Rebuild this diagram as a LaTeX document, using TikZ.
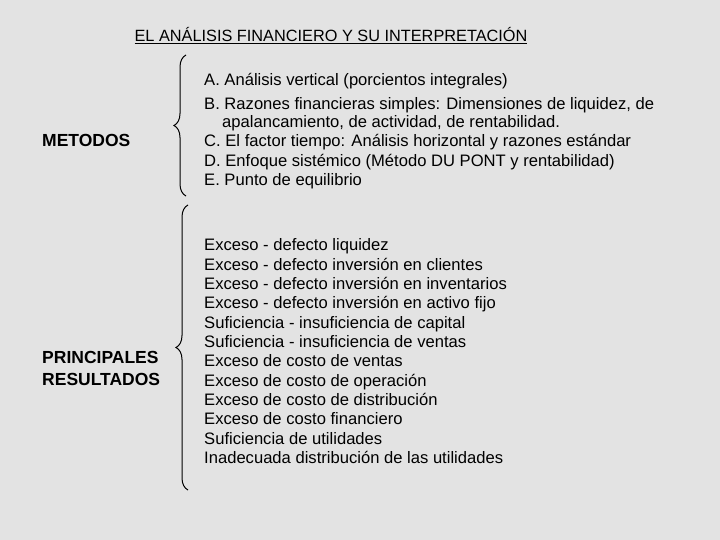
\documentclass[tikz,border=0pt]{standalone}
\usepackage{fontspec}
\setmainfont{Liberation Sans}
\usetikzlibrary{decorations.pathreplacing}
\tikzset{
  linea/.style={anchor=base west, inner sep=0pt, font=\fontsize{16.6}{19}\selectfont},
  llave/.style={decorate, decoration={brace, amplitude=12pt}, line width=1pt}
}
\begin{document}
\begin{tikzpicture}[x=1pt,y=-1pt]
  % fondo
  \fill[gray!22] (0,0) rectangle (720,540);
  \useasboundingbox (0,0) rectangle (720,540);

  % titulo
  \node[inner sep=0pt, font=\fontsize{16.3}{18}\selectfont] (titulo) at (331,36)
    {\underline{EL ANÁLISIS FINANCIERO Y SU INTERPRETACIÓN}};

  % etiquetas de la izquierda
  \node[linea, font=\fontsize{17.5}{19}\bfseries] (metodos) at (42,147) {METODOS};
  \node[linea, font=\fontsize{17.5}{19}\bfseries] (princ) at (42,363) {PRINCIPALES};
  \node[linea, font=\fontsize{17.5}{19}\bfseries] (result) at (42,385) {RESULTADOS};

  % llaves
  \draw[llave] (186,196) -- (186,55);
  \draw[llave] (188,490) -- (188,205);

  % metodos
  \node[linea] (m1) at (204,86) {A. Análisis vertical (porcientos integrales)};
  \node[linea] (m2) at (204,110) {B. Razones financieras simples: Dimensiones de liquidez, de};
  \node[linea] (m3) at (222,128) {apalancamiento, de actividad, de rentabilidad.};
  \node[linea] (m4) at (204,147) {C. El factor tiempo: Análisis horizontal y razones estándar};
  \node[linea] (m5) at (204,167) {D. Enfoque sistémico (Método DU PONT y rentabilidad)};
  \node[linea] (m6) at (204,186) {E. Punto de equilibrio};

  % resultados
  \foreach \t [count=\i from 0] in {
    Exceso - defecto liquidez,
    Exceso - defecto inversión en clientes,
    Exceso - defecto inversión en inventarios,
    Exceso - defecto inversión en activo fijo,
    Suficiencia - insuficiencia de capital,
    Suficiencia - insuficiencia de ventas,
    Exceso de costo de ventas,
    Exceso de costo de operación,
    Exceso de costo de distribución,
    Exceso de costo financiero,
    Suficiencia de utilidades,
    Inadecuada distribución de las utilidades}
    \node[linea] (r\i) at (204,251+19.3*\i) {\t};
\end{tikzpicture}
\end{document}
